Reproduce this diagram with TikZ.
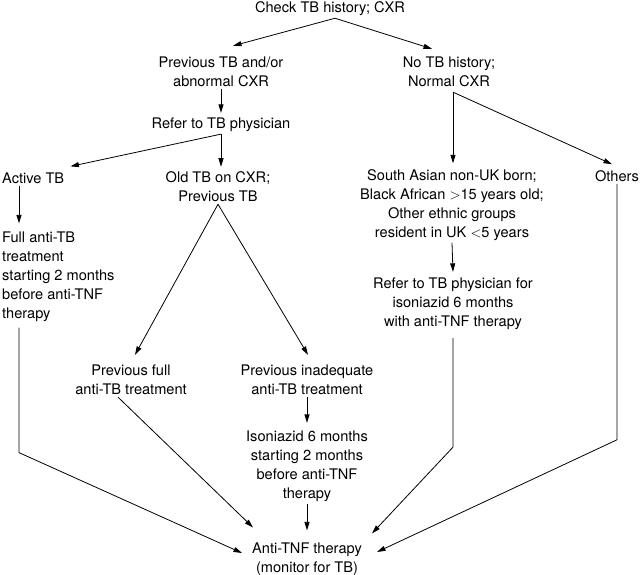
\documentclass[tikz,border=0pt]{standalone}
\usepackage{fontspec}
\setmainfont{TeX Gyre Heros}
\usepackage{tikz}
\usetikzlibrary{arrows.meta}

\begin{document}
\begin{tikzpicture}[x=1pt,y=-1pt,
  every node/.style={font=\fontsize{14.6}{19}\selectfont,inner sep=2pt},
  txt/.style={align=center},
  ltxt/.style={align=left,anchor=west},
  arr/.style={line width=0.8pt,-{Triangle[length=8.5pt,width=5pt]}}]
  \useasboundingbox (0,0) rectangle (640,575);
  % nodes
  \node[txt] (check) at (330,9) {Check TB history; CXR};
  \node[txt] (prevtb) at (221,72) {Previous TB and/or\\abnormal CXR};
  \node[txt] (notb) at (449,72) {No TB history;\\Normal CXR};
  \node[txt] (refer) at (221,125) {Refer to TB physician};
  \node[ltxt] (active) at (0,178) {Active TB};
  \node[txt] (oldtb) at (218,187) {Old TB on CXR;\\Previous TB};
  \node[txt] (southasian) at (452,205) {South Asian non-UK born;\\Black African $>$15 years old;\\Other ethnic groups\\resident in UK $<$5 years};
  \node[txt] (others) at (617,176) {Others};
  \node[ltxt] (fulltb) at (0,276.5) {Full anti-TB\\treatment\\starting 2 months\\before anti-TNF\\therapy};
  \node[txt] (prevfull) at (131,380) {Previous full\\anti-TB treatment};
  \node[txt] (previnad) at (307,380) {Previous inadequate\\anti-TB treatment};
  \node[txt] (isoniazid) at (307,466.5) {Isoniazid 6 months\\starting 2 months\\before anti-TNF\\therapy};
  \node[txt] (referiso) at (453,304) {Refer to TB physician for\\isoniazid 6 months\\with anti-TNF therapy};
  \node[txt] (antitnf) at (307,559) {Anti-TNF therapy\\(monitor for TB)};
  % connectors
  \draw[arr] ([xshift=5pt]check.south) -- ([xshift=12pt,yshift=9pt]prevtb.north);
  \draw[arr] ([xshift=5pt]check.south) -- ([xshift=-17pt,yshift=6pt]notb.north);
  \draw[arr] (prevtb.south) -- ([yshift=3pt]refer.north);
  \draw[arr] (refer.south) -- ([xshift=4pt,yshift=4pt]active.north east);
  \draw[arr] (refer.south) -- ([yshift=3pt]refer.south |- oldtb.north);
  \coordinate (nsplit) at ([xshift=4pt,yshift=-3pt]notb.south);
  \draw[arr] (nsplit) -- ([yshift=4pt]nsplit |- southasian.north);
  \draw[arr] (nsplit) -- ([xshift=-5pt,yshift=4pt]others.north);
  \draw[arr] ([xshift=19pt]active.south west) -- ([xshift=19pt,yshift=6pt]active.south west |- fulltb.north);
  \draw[arr] ([xshift=19pt,yshift=-4pt]fulltb.south west) -- ++(0,125)
    -- ([xshift=-8pt,yshift=6pt]antitnf.west);
  \draw[arr] (oldtb.south) -- ([xshift=4pt,yshift=8pt]prevfull.north);
  \draw[arr] (oldtb.south) -- ([xshift=1pt,yshift=8pt]previnad.north);
  \draw[arr] ([xshift=-13pt]prevfull.south) -- ([xshift=3pt,yshift=13pt]antitnf.north west);
  \draw[arr] (previnad.south) -- ([yshift=6pt]isoniazid.north);
  \draw[arr] (isoniazid.south) -- ([yshift=10pt]antitnf.north);
  \draw[arr] (southasian.south) -- ([yshift=4pt]referiso.north);
  \draw[arr] ([yshift=-6pt]referiso.south) -- ++(0,109)
    -- ([xshift=8pt,yshift=7pt]antitnf.north east);
  \draw[arr] (others.south) -- ++(0,256)
    -- ([xshift=13pt,yshift=7pt]antitnf.east);
\end{tikzpicture}
\end{document}
